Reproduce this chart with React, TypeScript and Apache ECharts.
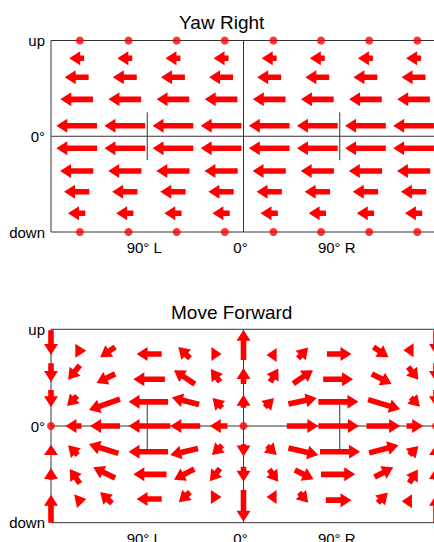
import React, { useEffect, useRef } from "react";
import * as echarts from "echarts";

// ---------- tick labels ----------
const xTickValues = [-90, 0, 90];
const xTickTexts = ["90° L", "0°", "90° R"];
const yTickValues = [-90, 0, 90];
const yTickTexts = ["down", "0°", "up"];

// ---------- panel 1 : Yaw Right (all arrows point left) ----------
const yawTitle = "Yaw Right";
const yawArrowCentres = [-156, -111, -66, -21, 24, 69, 114, 159]; // azimuth (deg)
const yawRows = [73.3, 55.4, 34.7, 9.9, -11.3, -32.7, -52.1, -72.4]; // elevation (deg)
const yawLengths = [14, 22.4, 30.6, 38.1, 38.1, 31.1, 23.7, 16.2]; // arrow length (deg)
const yawDotColumns = [-153, -107.5, -62.5, -17.5, 28, 72.5, 117.5, 162.5];
const yawDotRows = [90, -90];

// ---------- panel 2 : Move Forward ([tailAz, tailEl, headAz, headEl]) ----------
const forwardTitle = "Move Forward";
const fwdRowUp67 = [
  [-180, 89, -180, 66], [-157.5, 70, -147, 70], [-120, 73.5, -134, 64], [-76.5, 67, -100, 67],
  [-50, 63, -61, 73.5], [-30, 67, -20.5, 67], [0, 61.5, 0, 89.5], [31, 66, 21.5, 66],
  [51, 63, 60.5, 73], [78, 67, 101, 67], [121.5, 73.5, 135.5, 64], [159, 70.5, 149.5, 70.5],
  [180, 89, 180, 66],
];
const fwdRowUp45 = [
  [-180, 58.5, -180, 41], [-153, 56.5, -164, 43], [-120, 48.5, -137.5, 40], [-73.5, 43.5, -103, 43.5],
  [-45.5, 39, -65, 52], [-22, 41, -30.5, 53], [0, 39, 0, 54], [25, 41, 32.5, 53.5],
  [46.5, 39.5, 65, 52], [74.5, 43.5, 102.5, 43.5], [120, 48.5, 138.5, 39], [154, 55, 163.5, 43],
  [180, 58.5, 180, 41],
];
const fwdRowUp22 = [
  [-180, 33.5, -180, 17.5], [-155.5, 28, -165, 18.5], [-115.5, 25, -144.5, 15], [-70.5, 22.5, -107.5, 22.5],
  [-41.5, 20, -67, 26.5], [-20, 17, -29, 26], [0, 17, 0, 29], [20, 17.5, 28.5, 26],
  [42, 20.5, 68.5, 26], [70, 22.5, 107.5, 22.5], [116.5, 24.5, 146.5, 15.5], [156.5, 26.5, 165, 18],
  [180, 33.5, 180, 17.5],
];
const fwdRowZero = [
  [-151.5, 0, -166.5, 0], [-115.5, 0, -143.5, 0], [-68.5, 0, -107.5, 0], [-40.5, 0, -68.5, 0],
  [-15, 0, -31.5, 0], [40.5, 0, 70, 0], [70, 0, 108, 0], [115, 0, 146.5, 0], [152.5, 0, 168, 0],
];
const fwdRowDown22 = [
  [-180, -27, -180, -17.5], [-155, -27, -164, -18], [-117, -25.5, -144.5, -17], [-70.5, -24, -107.5, -24],
  [-42.5, -21, -68.5, -27], [-20, -18, -29.5, -27], [0, -17, 0, -28.5], [22, -18.5, 31, -27],
  [42, -20.5, 70, -27], [71.5, -24, 109, -24], [117.5, -25, 145, -18], [155, -27, 163.5, -18.5],
  [180, -27, 180, -17.5],
];
const fwdRowDown45 = [
  [-180, -50, -180, -39], [-153, -53.5, -162.5, -40], [-120, -48.5, -140.5, -38.5], [-72, -45, -103, -45],
  [-46, -40, -65, -50], [-22, -39.5, -31.5, -51.5], [0, -38, 0, -52], [24, -40.5, 32.5, -52],
  [48, -41, 65.5, -49.5], [72.5, -45, 104.5, -45], [122.5, -47.5, 140, -38.5], [155, -53, 163, -40.5],
  [180, -50, 180, -39],
];
const fwdRowDown67 = [
  [-180, -90, -180, -64], [-157, -70, -147, -68], [-123, -72, -134, -61.5], [-76.5, -68, -100, -68],
  [-50, -61.5, -60.5, -71], [-30.5, -66, -20.5, -66], [0, -59.5, 0, -89], [31, -66, 21.5, -66],
  [52, -62, 60.5, -71.5], [77, -69, 101, -69], [125.5, -71.5, 135, -62], [157.5, -70, 148, -70],
  [180, -90, 180, -64],
];
const forwardDots = [[-180, 0], [0, 0], [180, 0]];

// guide lines (same in both panels): [x1, y1, x2, y2]
const guideLines = [
  [0, -90, 0, 90],
  [-180, 0, 180, 0],
  [-90, -22.5, -90, 22.5],
  [90, -22.5, 90, 22.5],
];

const RED = "#ff0000";
const FONT = "Liberation Sans, Arial, sans-serif";

function renderArrow(_params: any, api: any) {
  const p0 = api.coord([api.value(0), api.value(1)]);
  const p1 = api.coord([api.value(2), api.value(3)]);
  const dx = p1[0] - p0[0];
  const dy = p1[1] - p0[1];
  const L = Math.hypot(dx, dy);
  if (L < 0.5) return null;
  const ux = dx / L, uy = dy / L;
  const nx = -uy, ny = ux;
  const headLen = Math.min(11, L);
  const s = 2.8, h = 7;
  const bx = p1[0] - ux * headLen, by = p1[1] - uy * headLen;
  const pts =
    L > headLen + 0.5
      ? [
          [p0[0] + nx * s, p0[1] + ny * s],
          [bx + nx * s, by + ny * s],
          [bx + nx * h, by + ny * h],
          [p1[0], p1[1]],
          [bx - nx * h, by - ny * h],
          [bx - nx * s, by - ny * s],
          [p0[0] - nx * s, p0[1] - ny * s],
        ]
      : [
          [bx + nx * h, by + ny * h],
          [p1[0], p1[1]],
          [bx - nx * h, by - ny * h],
        ];
  return { type: "polygon", shape: { points: pts }, style: { fill: RED } };
}

function renderGuide(_params: any, api: any) {
  const p0 = api.coord([api.value(0), api.value(1)]);
  const p1 = api.coord([api.value(2), api.value(3)]);
  return {
    type: "line",
    shape: { x1: p0[0], y1: p0[1], x2: p1[0], y2: p1[1] },
    style: { stroke: "#333", lineWidth: 1 },
  };
}

export default function App() {
  const ref = useRef<HTMLDivElement>(null);

  useEffect(() => {
    if (!ref.current) return;
    const chart = echarts.init(ref.current, undefined, { renderer: "svg" });

    const yawArrows: number[][] = [];
    yawRows.forEach((y, r) => {
      yawArrowCentres.forEach((cx) => {
        const half = yawLengths[r] / 2;
        yawArrows.push([cx + half, y, cx - half, y]);
      });
    });
    const yawDots: number[][] = [];
    yawDotRows.forEach((y) => yawDotColumns.forEach((x) => yawDots.push([x, y])));

    const forwardArrows = [
      ...fwdRowUp67, ...fwdRowUp45, ...fwdRowUp22, ...fwdRowZero,
      ...fwdRowDown22, ...fwdRowDown45, ...fwdRowDown67,
    ];

    const xAxisBase = (gridIndex: number) => ({
      type: "value",
      gridIndex,
      min: -180,
      max: 180,
      interval: 90,
      axisLine: { show: false },
      axisTick: { show: false },
      splitLine: { show: false },
      axisLabel: {
        show: true,
        margin: 8,
        fontSize: 15,
        fontFamily: FONT,
        color: "#000",
        padding: [0, 6, 0, 0],
        formatter: (v: number) => {
          const i = xTickValues.indexOf(v);
          return i >= 0 ? xTickTexts[i] : "";
        },
      },
    });
    const yAxisBase = (gridIndex: number) => ({
      type: "value",
      gridIndex,
      min: -90,
      max: 90,
      interval: 90,
      axisLine: { show: false },
      axisTick: { show: false },
      splitLine: { show: false },
      axisLabel: {
        show: true,
        margin: 6,
        fontSize: 15,
        fontFamily: FONT,
        color: "#000",
        formatter: (v: number) => {
          const i = yTickValues.indexOf(v);
          return i >= 0 ? yTickTexts[i] : "";
        },
      },
    });
    const gridBase = {
      left: 51,
      right: 4,
      show: true,
      borderColor: "#333",
      borderWidth: 1,
      backgroundColor: "transparent",
      containLabel: false,
      outerBoundsMode: "none",
    };

    chart.setOption({
      animation: false,
      backgroundColor: "#fff",
      textStyle: { fontFamily: FONT },
      grid: [
        { ...gridBase, top: 40.5, height: 191.5 },
        { ...gridBase, top: 329.3, height: 193.4 },
      ],
      xAxis: [xAxisBase(0), xAxisBase(1)],
      yAxis: [yAxisBase(0), yAxisBase(1)],
      graphic: [
        {
          type: "text",
          x: 221.7,
          y: 22,
          style: {
            text: yawTitle,
            fontSize: 19,
            fontFamily: FONT,
            fill: "#000",
            align: "center",
            verticalAlign: "middle",
            textAlign: "center",
            textVerticalAlign: "middle",
          },
        },
        {
          type: "text",
          x: 231.7,
          y: 312,
          style: {
            text: forwardTitle,
            fontSize: 19,
            fontFamily: FONT,
            fill: "#000",
            align: "center",
            verticalAlign: "middle",
            textAlign: "center",
            textVerticalAlign: "middle",
          },
        },
      ],
      series: [
        { type: "custom", xAxisIndex: 0, yAxisIndex: 0, renderItem: renderGuide, data: guideLines, z: 1, silent: true },
        { type: "custom", xAxisIndex: 1, yAxisIndex: 1, renderItem: renderGuide, data: guideLines, z: 1, silent: true },
        { type: "custom", xAxisIndex: 0, yAxisIndex: 0, renderItem: renderArrow, data: yawArrows, z: 3, silent: true },
        { type: "custom", xAxisIndex: 1, yAxisIndex: 1, renderItem: renderArrow, data: forwardArrows, z: 3, silent: true },
        {
          type: "scatter", xAxisIndex: 0, yAxisIndex: 0, data: yawDots, symbol: "circle", symbolSize: 8,
          itemStyle: { color: RED }, z: 4, silent: true,
        },
        {
          type: "scatter", xAxisIndex: 1, yAxisIndex: 1, data: forwardDots, symbol: "circle", symbolSize: 8,
          itemStyle: { color: RED }, z: 4, silent: true,
        },
      ],
    });

    return () => chart.dispose();
  }, []);

  return (
    <div
      style={{
        position: "fixed",
        left: 0,
        top: 0,
        width: 434,
        height: 542,
        overflow: "hidden",
        background: "#fff",
      }}
    >
      <div ref={ref} style={{ width: 440, height: 542 }} />
    </div>
  );
}
